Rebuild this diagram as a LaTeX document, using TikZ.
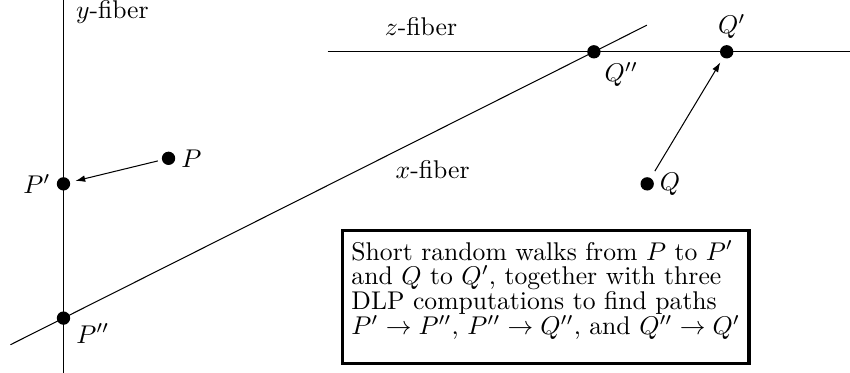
\documentclass[tikz,border=0pt]{standalone}
\usepackage{amsmath}
\usepackage{tikz}
\usetikzlibrary{arrows.meta,calc}

\begin{document}
\begin{tikzpicture}[
    dot/.style={
        circle,
        fill,
        inner sep=0pt,
        minimum size=5.2pt
    },
    every label/.style={
        inner sep=2pt
    },
    fiberlabel/.style={
        anchor=base,
        inner sep=0pt
    },
    note/.style={
        draw,
        line width=1.2pt,
        align=left,
        inner xsep=3.5pt,
        inner ysep=3.9pt,
        font=\fontsize{10}{9.7}\selectfont
    },
    arrow/.style={
        -{Latex[length=3.8pt,width=2.6pt]},
        shorten >=2pt,
        shorten <=1.5pt
    }
]

\useasboundingbox (0,0) rectangle (11.65,5.11);

% points on the fibers
\node[dot, label={[anchor=north west]0:$P''$}] (Ppp) at (0.87,0.75) {};
\node[dot, label=left:$P'$] (Pp) at (0.87,2.59) {};
\node[dot, label=right:$P$] (P) at (2.31,2.94) {};
\node[dot, label=below right:$Q''$] (Qpp) at (8.14,4.40) {};
\node[dot, label={[xshift=2pt]above:$Q'$}] (Qp) at (9.96,4.40) {};
\node[dot, label=right:$Q$] (Q) at (8.87,2.59) {};

% fibers
\coordinate (ybot) at (0.87,0);
\coordinate (ytop) at (0.87,5.11);
\coordinate (zleft) at (4.49,4.40);
\coordinate (zright) at (11.65,4.40);

\draw (ybot) -- (ytop);
\draw (zleft) -- (zright);
\draw ($(Ppp)!-0.1!(Qpp)$) -- ($(Ppp)!1.1!(Qpp)$);

\node[fiberlabel] (yname) at (1.54,4.86) {$y$-fiber};
\node[fiberlabel] (zname) at (5.77,4.62) {$z$-fiber};
\node[fiberlabel] (xname) at (5.93,2.66) {$x$-fiber};

% random walks
\draw[arrow] (P) -- (Pp);
\draw[arrow, shorten <=3pt] (Q) -- (Qp);

\node[note] (walks) at (7.48,1.04) {
    Short random walks from $P$ to $P'$\\
    and $Q$ to $Q'$, together with three\\
    DLP computations to find paths\\
    $P'\to P''$, $P''\to Q''$, and $Q''\to Q'$\\[-2.5pt]
};

\end{tikzpicture}
\end{document}
